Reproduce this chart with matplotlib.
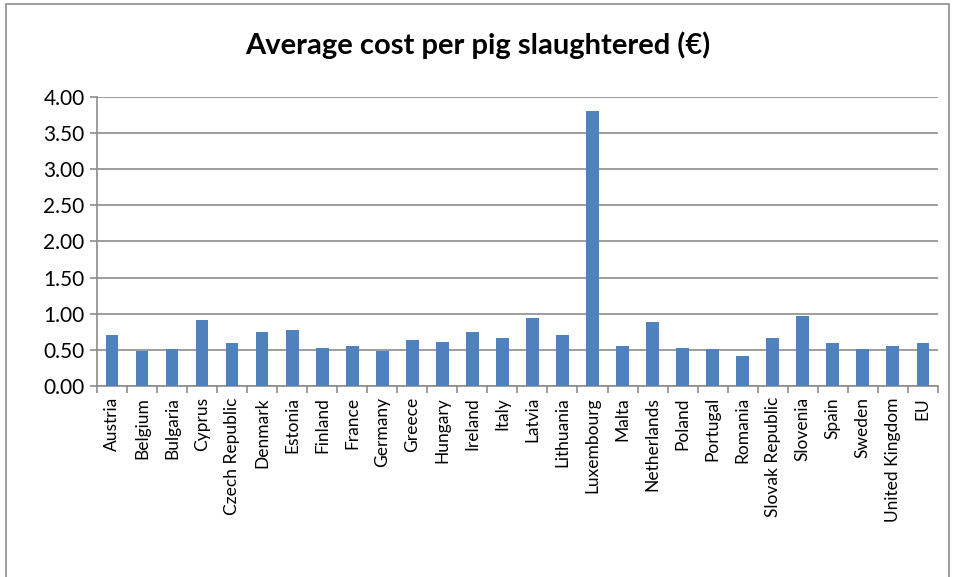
import numpy as np
import matplotlib.pyplot as plt
from matplotlib.patches import Rectangle

countries = ['Austria', 'Belgium', 'Bulgaria', 'Cyprus', 'Czech Republic', 'Denmark',
             'Estonia', 'Finland', 'France', 'Germany', 'Greece', 'Hungary', 'Ireland',
             'Italy', 'Latvia', 'Lithuania', 'Luxembourg', 'Malta', 'Netherlands',
             'Poland', 'Portugal', 'Romania', 'Slovak Republic', 'Slovenia', 'Spain',
             'Sweden', 'United Kingdom', 'EU']
cost = [0.70, 0.48, 0.51, 0.92, 0.59, 0.75, 0.78, 0.53, 0.56, 0.48, 0.64, 0.61, 0.75,
        0.67, 0.94, 0.70, 3.80, 0.56, 0.89, 0.53, 0.51, 0.42, 0.67, 0.97, 0.59,
        0.51, 0.56, 0.59]
yticks = [0.0, 0.5, 1.0, 1.5, 2.0, 2.5, 3.0, 3.5, 4.0]

plt.rcParams['font.family'] = ['Lato', 'DejaVu Sans']

fig = plt.figure(figsize=(9.56, 5.77), dpi=100)
ax = fig.add_axes([0.1015, 0.331, 0.8795, 0.501])

# chart area border
fig.patches.append(Rectangle((0.006, -0.02), 0.987, 1.013, transform=fig.transFigure,
                             fill=False, edgecolor='#8c8c8c', linewidth=1.2))

x = np.arange(len(countries))
ax.bar(x, cost, width=0.42, color='#4f81bd', zorder=3)

ax.set_xlim(-0.5, len(countries) - 0.5)
ax.set_ylim(0, 4)
ax.set_yticks(yticks)
ax.set_yticklabels([f'{v:.2f}' for v in yticks], fontsize=15)
ax.yaxis.grid(True, color='#8c8c8c', linewidth=1.2, zorder=0)

ax.set_xticks(x)
ax.set_xticklabels(countries, rotation=90, fontsize=12.5)
ax.set_xticks(np.arange(-0.5, len(countries)), minor=True)
ax.tick_params(axis='x', which='major', length=0, pad=8)
ax.tick_params(axis='x', which='minor', length=5, color='#8c8c8c', width=1.2)
ax.tick_params(axis='y', length=5, color='#8c8c8c', width=1.2, pad=4)

for side in ['top', 'right']:
    ax.spines[side].set_visible(False)
for side in ['left', 'bottom']:
    ax.spines[side].set_color('#8c8c8c')
    ax.spines[side].set_linewidth(1.2)

fig.text(0.5, 0.922, 'Average cost per pig slaughtered (€)', ha='center', va='center',
         fontsize=21, fontweight='bold')

plt.savefig('out.png', dpi=100)
